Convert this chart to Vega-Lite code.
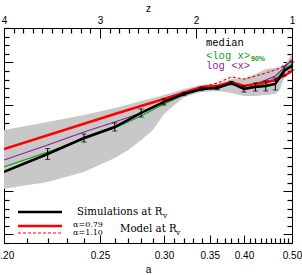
{
"$schema":"https://vega.github.io/schema/vega-lite/v6.json",
"width":288,"height":215,
"autosize":"none",
"padding":{"left":4,"top":28,"right":10,"bottom":32},
"config":{"view":{"stroke":"black","strokeWidth":1},
 "axis":{"domainColor":"black","tickColor":"black","tickWidth":1,"labelFont":"Liberation Sans","labelFontSize":10,"labelColor":"black","titleFont":"Liberation Sans","titleFontSize":10,"titleFontWeight":"normal","titleColor":"black","grid":false,"labelFlush":false,"labelOverlap":false}},
"encoding":{"x":{"field":"a","type":"quantitative","scale":{"type":"pow","exponent":-1,"domain":[0.2,0.5],"nice":false,"zero":false},"axis":null}},
"layer":[
 {"data":{"values":[
   {"a":0.20,"lo":5.3,"hi":12.14},{"a":0.22,"lo":6.09,"hi":13.07},{"a":0.24,"lo":7.26,"hi":13.88},{"a":0.26,"lo":8.88,"hi":14.70},{"a":0.27,"lo":9.81,"hi":15.10},{"a":0.28,"lo":10.98,"hi":15.51},{"a":0.29,"lo":12.14,"hi":15.86},{"a":0.30,"lo":14.0,"hi":16.21},{"a":0.32,"lo":15.98,"hi":16.91},{"a":0.34,"lo":16.56,"hi":17.37},{"a":0.36,"lo":16.67,"hi":17.49},{"a":0.38,"lo":16.44,"hi":18.07},{"a":0.40,"lo":16.09,"hi":18.07},{"a":0.42,"lo":16.09,"hi":18.65},{"a":0.44,"lo":16.21,"hi":19.23},{"a":0.46,"lo":16.33,"hi":19.35},{"a":0.47,"lo":16.79,"hi":19.46},{"a":0.48,"lo":18.19,"hi":19.58},{"a":0.50,"lo":19.81,"hi":20.98}]},
  "mark":{"type":"area","color":"#c8c8c8","clip":true},
  "encoding":{
   "x":{"field":"a","type":"quantitative","scale":{"type":"pow","exponent":-1,"domain":[0.2,0.5],"nice":false,"zero":false},
    "axis":{"orient":"bottom","title":"a","titlePadding":4,"labelPadding":15.5,"tickSize":-8,"values":[0.2,0.25,0.3,0.35,0.4,0.5],"format":".2f"}},
   "y":{"field":"hi","type":"quantitative","scale":{"domain":[-1,24],"nice":false,"zero":false},
    "axis":{"orient":"left","title":null,"labels":false,"values":[0,5,10,15,20],"tickSize":-9}},
   "y2":{"field":"lo"}}},
 {"data":{"values":[{"a":0.20,"v":9.93},{"a":0.34,"v":17.14},{"a":0.36,"v":17.60},{"a":0.38,"v":18.30},{"a":0.40,"v":18.07},{"a":0.42,"v":18.42},{"a":0.44,"v":18.77},{"a":0.46,"v":19.12},{"a":0.48,"v":19.58},{"a":0.50,"v":20.28}]},
  "mark":{"type":"line","color":"#ff0000","strokeWidth":1.2,"strokeDash":[3,2],"clip":true},
  "encoding":{"y":{"field":"v","type":"quantitative","scale":{"domain":[-1,24],"nice":false,"zero":false},"axis":null}}},
 {"data":{"values":[{"a":0.20,"v":7.84},{"a":0.22,"v":9.58},{"a":0.24,"v":11.09},{"a":0.26,"v":12.37},{"a":0.28,"v":13.77},{"a":0.30,"v":15.16},{"a":0.32,"v":16.21},{"a":0.34,"v":16.91},{"a":0.36,"v":17.02},{"a":0.38,"v":17.49},{"a":0.40,"v":17.02},{"a":0.42,"v":17.26},{"a":0.44,"v":17.49},{"a":0.46,"v":17.95},{"a":0.48,"v":19.12},{"a":0.50,"v":19.81}]},
  "mark":{"type":"line","color":"#1a9a1a","strokeWidth":1.2,"clip":true},
  "encoding":{"y":{"field":"v","type":"quantitative","scale":{"domain":[-1,24],"nice":false,"zero":false},"axis":null}}},
 {"data":{"values":[{"a":0.20,"v":8.65},{"a":0.22,"v":10.40},{"a":0.24,"v":11.91},{"a":0.26,"v":13.07},{"a":0.28,"v":14.12},{"a":0.30,"v":15.40},{"a":0.32,"v":16.44},{"a":0.34,"v":17.02},{"a":0.36,"v":17.26},{"a":0.38,"v":17.72},{"a":0.40,"v":17.26},{"a":0.42,"v":17.49},{"a":0.44,"v":17.95},{"a":0.46,"v":18.42},{"a":0.48,"v":19.35},{"a":0.50,"v":20.28}]},
  "mark":{"type":"line","color":"#8b1f9e","strokeWidth":1.2,"clip":true},
  "encoding":{"y":{"field":"v","type":"quantitative","scale":{"domain":[-1,24],"nice":false,"zero":false},"axis":null}}},
 {"data":{"values":[{"a":0.20,"v":9.93},{"a":0.26,"v":14.0},{"a":0.30,"v":15.74},{"a":0.34,"v":17.14},{"a":0.36,"v":17.26},{"a":0.38,"v":17.72},{"a":0.40,"v":17.26},{"a":0.42,"v":17.49},{"a":0.44,"v":17.72},{"a":0.46,"v":17.95},{"a":0.48,"v":18.42},{"a":0.50,"v":19.0}]},
  "mark":{"type":"line","color":"#ff0000","strokeWidth":2.5,"clip":true},
  "encoding":{"y":{"field":"v","type":"quantitative","scale":{"domain":[-1,24],"nice":false,"zero":false},"axis":null}}},
 {"data":{"values":[{"a":0.20,"v":7.26},{"a":0.22,"v":9.35},{"a":0.24,"v":11.21},{"a":0.26,"v":12.49},{"a":0.28,"v":14.12},{"a":0.30,"v":15.40},{"a":0.32,"v":16.33},{"a":0.34,"v":16.91},{"a":0.36,"v":17.02},{"a":0.38,"v":17.60},{"a":0.40,"v":16.91},{"a":0.42,"v":17.14},{"a":0.44,"v":17.26},{"a":0.46,"v":17.49},{"a":0.48,"v":19.0},{"a":0.50,"v":19.58}]},
  "mark":{"type":"line","color":"black","strokeWidth":2.5,"clip":true},
  "encoding":{"y":{"field":"v","type":"quantitative","scale":{"domain":[-1,24],"nice":false,"zero":false},"axis":null}}},
 {"data":{"name":"err","values":[{"a":0.22,"lo":8.71,"hi":9.99},{"a":0.24,"lo":10.74,"hi":11.68},{"a":0.26,"lo":12.02,"hi":12.96},{"a":0.28,"lo":13.65,"hi":14.59},{"a":0.30,"lo":15.05,"hi":15.75},{"a":0.32,"lo":16.13,"hi":16.53},{"a":0.34,"lo":16.71,"hi":17.11},{"a":0.36,"lo":16.82,"hi":17.22},{"a":0.38,"lo":17.40,"hi":17.80},{"a":0.40,"lo":16.56,"hi":17.26},{"a":0.42,"lo":16.67,"hi":17.61},{"a":0.44,"lo":16.68,"hi":17.84},{"a":0.46,"lo":16.79,"hi":18.19},{"a":0.48,"lo":18.42,"hi":19.58},{"a":0.50,"lo":19.11,"hi":20.05}]},
  "mark":{"type":"rule","color":"black","strokeWidth":1},
  "encoding":{
   "y":{"field":"lo","type":"quantitative","scale":{"domain":[-1,24],"nice":false,"zero":false},"axis":null},"y2":{"field":"hi"}}},
 {"data":{"name":"err"},
  "mark":{"type":"tick","orient":"horizontal","color":"black","size":5,"thickness":1},
  "encoding":{"y":{"field":"lo","type":"quantitative","scale":{"domain":[-1,24],"nice":false,"zero":false},"axis":null}}},
 {"data":{"name":"err"},
  "mark":{"type":"tick","orient":"horizontal","color":"black","size":5,"thickness":1},
  "encoding":{"y":{"field":"hi","type":"quantitative","scale":{"domain":[-1,24],"nice":false,"zero":false},"axis":null}}},
 {"data":{"values":[{"a1":0.206,"a2":0.2275,"v":2.6}]},
  "mark":{"type":"rule","color":"black","strokeWidth":2.5},
  "encoding":{"x":{"field":"a1","type":"quantitative","scale":{"type":"pow","exponent":-1,"domain":[0.2,0.5],"nice":false,"zero":false},"axis":null},"x2":{"field":"a2"},
   "y":{"field":"v","type":"quantitative","scale":{"domain":[-1,24],"nice":false,"zero":false},"axis":null}}},
 {"data":{"values":[{"a1":0.206,"a2":0.2275,"v":0.98}]},
  "mark":{"type":"rule","color":"#ff0000","strokeWidth":2.5},
  "encoding":{"x":{"field":"a1","type":"quantitative","scale":{"type":"pow","exponent":-1,"domain":[0.2,0.5],"nice":false,"zero":false},"axis":null},"x2":{"field":"a2"},
   "y":{"field":"v","type":"quantitative","scale":{"domain":[-1,24],"nice":false,"zero":false},"axis":null}}},
 {"data":{"values":[{"a1":0.206,"a2":0.2275,"v":0.16}]},
  "mark":{"type":"rule","color":"#ff0000","strokeWidth":1.2,"strokeDash":[3,2]},
  "encoding":{"x":{"field":"a1","type":"quantitative","scale":{"type":"pow","exponent":-1,"domain":[0.2,0.5],"nice":false,"zero":false},"axis":null},"x2":{"field":"a2"},
   "y":{"field":"v","type":"quantitative","scale":{"domain":[-1,24],"nice":false,"zero":false},"axis":null}}},
 {"data":{"values":[{"a":0.2359,"v":2.6,"t":"Simulations at R"},{"a":0.2637,"v":0.63,"t":"Model at R"}]},
  "mark":{"type":"text","align":"left","baseline":"middle","font":"DejaVu Serif","fontSize":10.2,"color":"black"},
  "encoding":{"y":{"field":"v","type":"quantitative","scale":{"domain":[-1,24],"nice":false,"zero":false},"axis":null},"text":{"field":"t"}}},
 {"data":{"values":[{"a":0.2990,"v":2.1,"t":"v"},{"a":0.3117,"v":0.13,"t":"v"}]},
  "mark":{"type":"text","align":"left","baseline":"middle","font":"DejaVu Serif","fontSize":7.5,"color":"black"},
  "encoding":{"y":{"field":"v","type":"quantitative","scale":{"domain":[-1,24],"nice":false,"zero":false},"axis":null},"text":{"field":"t"}}},
 {"data":{"values":[{"a":0.2336,"v":1.09,"t":"α=0.79"},{"a":0.2336,"v":0.2,"t":"α=1.10"}]},
  "mark":{"type":"text","align":"left","baseline":"middle","font":"DejaVu Serif","fontSize":8,"color":"black"},
  "encoding":{"y":{"field":"v","type":"quantitative","scale":{"domain":[-1,24],"nice":false,"zero":false},"axis":null},"text":{"field":"t"}}},
 {"data":{"values":[{"a":0.3453,"v":22.26,"t":"median"}]},
  "mark":{"type":"text","align":"left","baseline":"middle","font":"Liberation Mono","fontSize":10.5,"color":"black"},
  "encoding":{"y":{"field":"v","type":"quantitative","scale":{"domain":[-1,24],"nice":false,"zero":false},"axis":null},"text":{"field":"t"}}},
 {"data":{"values":[{"a":0.3453,"v":20.74,"t":"<log x>"}]},
  "mark":{"type":"text","align":"left","baseline":"middle","font":"Liberation Mono","fontSize":10.5,"color":"#1a9a1a"},
  "encoding":{"y":{"field":"v","type":"quantitative","scale":{"domain":[-1,24],"nice":false,"zero":false},"axis":null},"text":{"field":"t"}}},
 {"data":{"values":[{"a":0.412,"v":20.35,"t":"90%"}]},
  "mark":{"type":"text","align":"left","baseline":"middle","font":"Liberation Sans","fontSize":7,"fontWeight":"bold","color":"#1a9a1a"},
  "encoding":{"y":{"field":"v","type":"quantitative","scale":{"domain":[-1,24],"nice":false,"zero":false},"axis":null},"text":{"field":"t"}}},
 {"data":{"values":[{"a":0.3453,"v":19.58,"t":"log <x>"}]},
  "mark":{"type":"text","align":"left","baseline":"middle","font":"Liberation Mono","fontSize":10.5,"color":"#8b1f9e"},
  "encoding":{"y":{"field":"v","type":"quantitative","scale":{"domain":[-1,24],"nice":false,"zero":false},"axis":null},"text":{"field":"t"}}},
 {"data":{"values":[{"a":0.3,"v":0}]},
  "mark":{"type":"point","opacity":0},
  "encoding":{
   "x":{"field":"a","type":"quantitative","scale":{"type":"pow","exponent":-1,"domain":[0.2,0.5],"nice":false,"zero":false},
    "axis":{"orient":"bottom","title":null,"labels":false,"tickSize":-5,"tickWidth":1.2,
     "values":[0.21,0.22,0.23,0.24,0.26,0.27,0.28,0.29,0.31,0.32,0.33,0.34,0.36,0.37,0.38,0.39,0.41,0.42,0.43,0.44,0.45,0.46,0.47,0.48,0.49]}},
   "y":{"field":"v","type":"quantitative","scale":{"domain":[-1,24],"nice":false,"zero":false},
    "axis":{"orient":"left","title":null,"labels":false,"tickSize":-5,"tickWidth":1.2,
     "values":[-1,1,2,3,4,6,7,8,9,11,12,13,14,16,17,18,19,21,22,23,24]}}}},
 {"data":{"values":[{"z":4,"v":0}]},
  "mark":{"type":"point","opacity":0},
  "encoding":{
   "x":{"field":"z","type":"quantitative","scale":{"domain":[4,1],"nice":false,"zero":false},
    "axis":{"orient":"top","title":"z","titlePadding":2,"labelPadding":13,"tickSize":-10,"values":[4,3,2,1],"format":"d"}},
   "y":{"field":"v","type":"quantitative","scale":{"domain":[-1,24],"nice":false,"zero":false},
    "axis":{"orient":"right","title":null,"labels":false,"tickSize":-9,"values":[0,5,10,15,20]}}}},
 {"data":{"values":[{"z":4,"v":0}]},
  "mark":{"type":"point","opacity":0},
  "encoding":{
   "x":{"field":"z","type":"quantitative","scale":{"domain":[4,1],"nice":false,"zero":false},
    "axis":{"orient":"top","title":null,"labels":false,"tickSize":-5,"tickWidth":1.2,
     "values":[3.9,3.8,3.7,3.6,3.5,3.4,3.3,3.2,3.1,2.9,2.8,2.7,2.6,2.5,2.4,2.3,2.2,2.1,1.9,1.8,1.7,1.6,1.5,1.4,1.3,1.2,1.1]}},
   "y":{"field":"v","type":"quantitative","scale":{"domain":[-1,24],"nice":false,"zero":false},
    "axis":{"orient":"right","title":null,"labels":false,"tickSize":-5,"tickWidth":1.2,
     "values":[-1,1,2,3,4,6,7,8,9,11,12,13,14,16,17,18,19,21,22,23,24]}}}}
],
"resolve":{"scale":{"x":"independent","y":"independent"},"axis":{"x":"independent","y":"independent"}}
}
